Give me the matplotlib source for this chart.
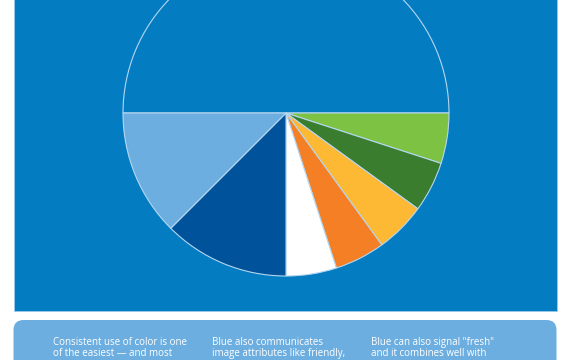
import matplotlib
matplotlib.use("Agg")
import matplotlib.pyplot as plt
from matplotlib.patches import Rectangle, FancyBboxPatch

# Data
shares = [50, 5, 5, 5, 5, 5, 12.5, 12.5]
slice_colors = ["#037CC2", "#7DC242", "#3A7D2E", "#FDB933", "#F47F24",
                "#FFFFFF", "#00529B", "#6DAEE0"]
captions = [
    "Consistent use of color is one\nof the easiest \u2014 and most",
    "Blue also communicates\nimage attributes like friendly,",
    "Blue can also signal \"fresh\"\nand it combines well with",
]

W, H = 570, 360
fig = plt.figure(figsize=(W / 100, H / 100), dpi=100)
fig.patch.set_facecolor("white")

# Background layer in pixel coordinates
bg = fig.add_axes([0, 0, 1, 1])
bg.set_xlim(0, W)
bg.set_ylim(H, 0)
bg.axis("off")
bg.add_patch(Rectangle((13.5, -5), 543.5, 315.5, facecolor="#037CC2",
                       edgecolor="#9cc9ea", linewidth=0.6))
bg.add_patch(FancyBboxPatch((13.5 + 10, 320 + 10), 543 - 20, 80,
                            boxstyle="round,pad=10", facecolor="#6DAEE0",
                            edgecolor="none"))
col_x = [53, 212, 371]
for x, txt in zip(col_x, captions):
    bg.text(x, 337, txt, color="white", fontsize=7.05, family="Open Sans",
            va="top", ha="left", linespacing=1.0)

# Pie
cx, cy, r = 286, 113, 163
pax = fig.add_axes([(cx - r) / W, (H - cy - r) / H, 2 * r / W, 2 * r / H])
pax.pie(shares, colors=slice_colors, startangle=180, counterclock=False,
        radius=1, wedgeprops=dict(edgecolor="#b5d7f0", linewidth=0.8))
pax.set_xlim(-1, 1)
pax.set_ylim(-1, 1)
pax.set_aspect("auto")
pax.axis("off")

fig.savefig("out.png", dpi=100, facecolor="white")
